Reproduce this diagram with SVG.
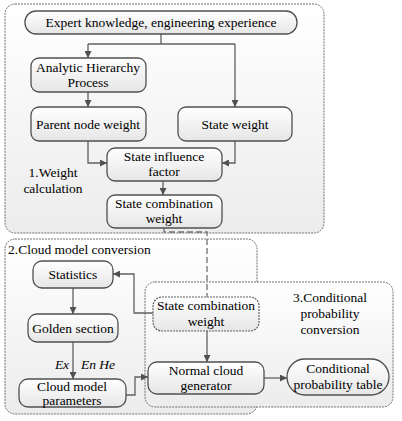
<svg xmlns="http://www.w3.org/2000/svg" width="402" height="421" viewBox="0 0 402 421">
<defs>
<linearGradient id="gNode" x1="0" y1="0" x2="0" y2="1">
<stop offset="0" stop-color="#ffffff"/><stop offset="1" stop-color="#e6e6e6"/>
</linearGradient>
<linearGradient id="gPanel" x1="0" y1="0" x2="0" y2="1">
<stop offset="0" stop-color="#ffffff"/><stop offset="1" stop-color="#ececec"/>
</linearGradient>
<marker id="arr" viewBox="0 0 10 10" refX="10" refY="5" markerWidth="7" markerHeight="7" markerUnits="userSpaceOnUse" orient="auto">
<path d="M0,0 L10,5 L0,10 z" fill="#505050"/>
</marker>
</defs>
<style>
.panel{fill:url(#gPanel);stroke:#707070;stroke-width:1;stroke-dasharray:2,1}
.node{fill:url(#gNode);stroke:#505050;stroke-width:1.3}
.dnode{fill:url(#gNode);stroke:#606060;stroke-width:1.2;stroke-dasharray:2,1}
text{font-family:"Liberation Serif",Times,"DejaVu Serif",serif;font-size:13.5px;fill:#000;text-anchor:middle}
.lbl{text-anchor:start}
.it{font-style:italic}
.c{fill:none;stroke:#606060;stroke-width:1.3}
.dash{fill:none;stroke:#707070;stroke-width:1.3;stroke-dasharray:6,3}
</style>
<g id="panel1"><rect class="panel" x="5" y="4" width="319" height="229" rx="10"/>
<text x="53" y="177">1.Weight</text><text x="53" y="193">calculation</text></g>
<g id="panel2"><rect class="panel" x="5" y="239" width="252" height="175" rx="10"/>
<text class="lbl" x="8" y="254">2.Cloud model conversion</text></g>
<g id="panel3"><rect class="panel" x="145" y="282" width="248" height="125" rx="10"/>
<text x="330" y="302">3.Conditional</text><text x="330" y="318">probability</text><text x="330" y="334">conversion</text></g>

<g id="connectors">
<path class="c" d="M161,34 V44"/>
<path class="c" d="M88,44 H235"/>
<path class="c" d="M88,44 V58" marker-end="url(#arr)"/>
<path class="c" d="M235,44 V107" marker-end="url(#arr)"/>
<path class="c" d="M88,92 V107" marker-end="url(#arr)"/>
<path class="c" d="M88,141 V163 H107" marker-end="url(#arr)"/>
<path class="c" d="M235,141 V163 H222" marker-end="url(#arr)"/>
<path class="c" d="M163,181 V195" marker-end="url(#arr)"/>
<path class="dash" d="M164,228 V232 H207 V297"/>
<path class="c" d="M153,313 H134 V274 H113" marker-end="url(#arr)"/>
<path class="c" d="M73,288 V314" marker-end="url(#arr)"/>
<path class="c" d="M73,342 V379" marker-end="url(#arr)"/>
<path class="c" d="M126,395 H135 V377 H148" marker-end="url(#arr)"/>
<path class="c" d="M207,331 V362" marker-end="url(#arr)"/>
<path class="c" d="M264,378 H287" marker-end="url(#arr)"/>
<text class="it" x="62" y="369">Ex</text>
<text class="it lbl" x="81" y="369">En  He</text>
</g>

<g id="n_expert"><rect class="node" x="25" y="11" width="272" height="23" rx="11"/><text x="161" y="27">Expert knowledge, engineering experience</text></g>
<g id="n_ahp"><rect class="node" x="31" y="58" width="115" height="34" rx="8"/><text x="88" y="72">Analytic Hierarchy</text><text x="88" y="87">Process</text></g>
<g id="n_parent"><rect class="node" x="31" y="107" width="115" height="34" rx="8"/><text x="88" y="129">Parent node weight</text></g>
<g id="n_state"><rect class="node" x="178" y="107" width="114" height="34" rx="8"/><text x="235" y="129">State weight</text></g>
<g id="n_sif"><rect class="node" x="107" y="148" width="115" height="33" rx="8"/><text x="164" y="161">State influence</text><text x="164" y="176">factor</text></g>
<g id="n_scw1"><rect class="node" x="107" y="195" width="115" height="33" rx="8"/><text x="164" y="208">State combination</text><text x="164" y="223">weight</text></g>
<g id="n_stat"><rect class="node" x="33" y="261" width="80" height="27" rx="9"/><text x="73" y="279">Statistics</text></g>
<g id="n_golden"><rect class="node" x="28" y="314" width="90" height="28" rx="9"/><text x="73" y="333">Golden section</text></g>
<g id="n_cmp"><rect class="node" x="19" y="379" width="107" height="28" rx="9"/><text x="72" y="391">Cloud model</text><text x="72" y="405">parameters</text></g>
<g id="n_scw2"><rect class="dnode" x="153" y="297" width="106" height="34" rx="9"/><text x="206" y="310">State combination</text><text x="206" y="326">weight</text></g>
<g id="n_ncg"><rect class="node" x="148" y="362" width="116" height="32" rx="9"/><text x="206" y="375">Normal cloud</text><text x="206" y="390">generator</text></g>
<g id="n_cpt"><rect class="node" x="287" y="359" width="102" height="36" rx="18"/><text x="338" y="373">Conditional</text><text x="338" y="389">probability table</text></g>
</svg>
